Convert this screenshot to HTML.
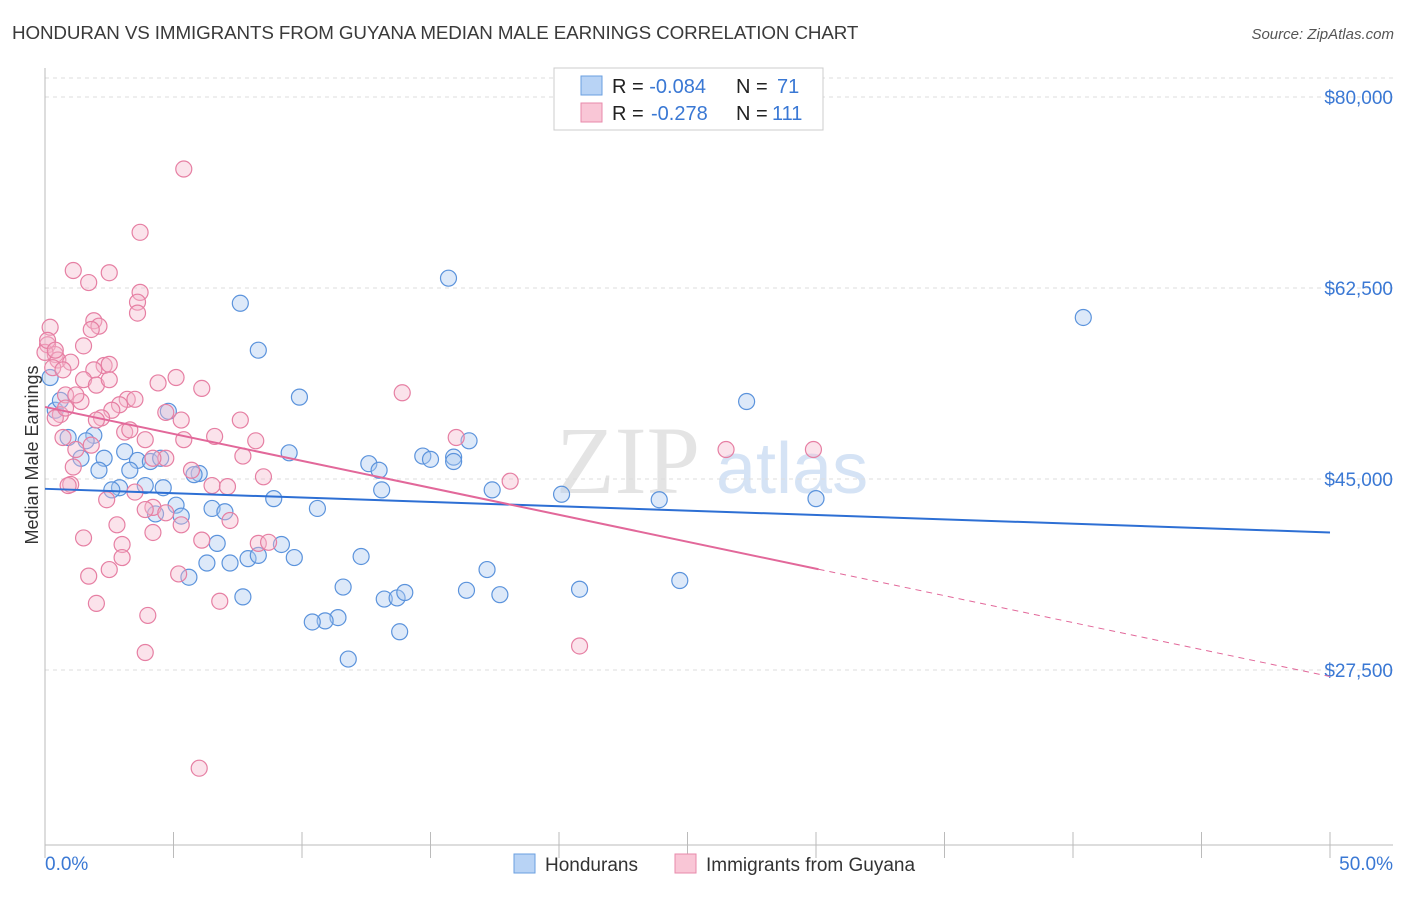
<!DOCTYPE html>
<html><head><meta charset="utf-8"><style>
body{margin:0;background:#fff;font-family:"Liberation Sans",sans-serif;}
</style></head><body>
<svg id="chart" width="1406" height="892" xmlns="http://www.w3.org/2000/svg" font-family="Liberation Sans, sans-serif">
<text x="12" y="39" font-size="18.8" fill="#3a3a3a" letter-spacing="-0.1">HONDURAN VS IMMIGRANTS FROM GUYANA MEDIAN MALE EARNINGS CORRELATION CHART</text>
<text x="1394" y="39" font-size="15" fill="#555" text-anchor="end" font-style="italic">Source: ZipAtlas.com</text>
<text x="556" y="493" font-size="96" fill="#e4e4e4" font-family="Liberation Serif, serif">ZIP</text>
<text x="716" y="493" font-size="72" fill="#d5e3f5">atlas</text>
<text x="38" y="455" font-size="18" fill="#333" text-anchor="middle" transform="rotate(-90 38 455)">Median Male Earnings</text>
<g id="grid"></g><g id="axes"></g><g id="pts"></g><g id="trends"></g>
<g>
<rect x="554" y="68" width="269" height="62" fill="#fff" stroke="#ccc"/>
<rect x="581" y="76" width="21" height="19" fill="#b8d3f5" stroke="#6a9fe0"/>
<rect x="581" y="103" width="21" height="19" fill="#f9c6d6" stroke="#e88aab"/>
<text x="612" y="93" font-size="20" fill="#222">R = <tspan fill="#3a78d4">-0.084</tspan><tspan x="736">N = </tspan><tspan fill="#3a78d4" x="777">71</tspan></text>
<text x="612" y="120" font-size="20" fill="#222">R = <tspan fill="#3a78d4" x="651">-0.278</tspan><tspan x="736">N = </tspan><tspan fill="#3a78d4" x="772">111</tspan></text>
</g>
<g>
<rect x="514" y="854" width="21" height="19" fill="#b8d3f5" stroke="#6a9fe0"/>
<text x="545" y="871" font-size="19" fill="#333">Hondurans</text>
<rect x="675" y="854" width="21" height="19" fill="#f9c6d6" stroke="#e88aab"/>
<text x="706" y="871" font-size="19" fill="#333">Immigrants from Guyana</text>
</g>
<text x="45" y="870" font-size="19" fill="#3a78d4">0.0%</text>
<text x="1393" y="870" font-size="19" fill="#3a78d4" text-anchor="end">50.0%</text>
</svg>
<script>
const yTicks=[80000,62500,45000,27500];
const yTickLabels=["$80,000","$62,500","$45,000","$27,500"];
const blueX=[7.6,15.7,40.4,8.3,9.9,27.3,4.8,0.2,1.9,0.9,1.6,3.1,2.3,1.4,3.6,4.1,4.5,3.3,2.1,6.0,5.8,9.5,12.6,13.0,14.7,15.0,15.9,15.9,16.5,13.1,17.4,20.1,23.9,30.0,2.9,2.6,3.9,4.6,5.1,5.3,4.3,6.5,7.0,8.9,10.6,6.7,7.9,8.3,7.2,6.3,5.6,9.7,9.2,12.3,11.6,7.7,13.2,13.7,14.0,16.4,17.2,17.7,20.8,24.7,11.4,10.9,10.4,13.8,11.8,0.4,0.6];
const blueY=[61.1,63.4,59.8,56.8,52.5,52.1,51.2,54.3,49.0,48.8,48.5,47.5,46.9,46.9,46.7,46.6,46.9,45.8,45.8,45.5,45.4,47.4,46.4,45.8,47.1,46.8,47.0,46.6,48.5,44.0,44.0,43.6,43.1,43.2,44.2,44.0,44.4,44.2,42.6,41.6,41.8,42.3,42.0,43.2,42.3,39.1,37.7,38.0,37.3,37.3,36.0,37.8,39.0,37.9,35.1,34.2,34.0,34.1,34.6,34.8,36.7,34.4,34.9,35.7,32.3,32.0,31.9,31.0,28.5,51.3,52.2];
const pinkX=[5.4,3.7,1.1,2.5,1.7,3.7,3.6,3.6,0.2,1.9,2.1,1.8,0.1,1.5,0.4,0.0,0.5,1.0,0.3,0.7,2.3,2.5,1.9,1.5,2.0,4.4,5.1,6.1,0.8,13.9,1.4,3.2,2.9,3.5,2.6,2.2,4.7,0.6,0.4,0.8,5.3,7.6,3.1,0.7,1.2,1.8,6.6,8.2,16.0,26.5,29.9,4.7,7.7,4.2,1.1,5.7,8.5,18.1,1.0,0.9,3.5,6.5,7.1,2.4,4.2,3.9,4.7,5.3,7.2,2.8,4.2,1.5,6.1,8.3,8.7,3.0,3.0,2.5,1.7,5.2,6.8,2.0,4.0,3.9,20.8,6.0,0.1,0.4,2.5,2.0,3.3,3.9,5.4,1.2];
const pinkY=[73.4,67.6,64.1,63.9,63.0,62.1,61.2,60.2,58.9,59.5,59.0,58.7,57.3,57.2,56.4,56.6,55.9,55.7,55.2,55.0,55.4,55.5,55.0,54.1,53.6,53.8,54.3,53.3,52.7,52.9,52.1,52.3,51.8,52.3,51.3,50.6,51.1,50.9,50.6,51.5,50.4,50.4,49.3,48.8,47.7,48.1,48.9,48.5,48.8,47.7,47.7,46.9,47.1,46.9,46.1,45.8,45.2,44.8,44.5,44.4,43.8,44.4,44.3,43.1,42.4,42.2,41.9,40.8,41.2,40.8,40.1,39.6,39.4,39.1,39.2,39.0,37.8,36.7,36.1,36.3,33.8,33.6,32.5,29.1,29.7,18.5,57.7,56.8,54.1,50.4,49.5,48.6,48.6,52.7];
const blueTrend=[44.1,40.1];
const pinkTrend=[51.6,26.9];
const pinkSolidEnd=30.1;
const NS="http://www.w3.org/2000/svg";
const sx=v=>45+v*25.7;
const sy=v=>97+(80-v)*10.914;
function mk(tag,attrs,parent){const e=document.createElementNS(NS,tag);for(const k in attrs)e.setAttribute(k,attrs[k]);parent.appendChild(e);return e;}
const grid=document.getElementById('grid'),axes=document.getElementById('axes'),pts=document.getElementById('pts'),tr=document.getElementById('trends');
let g0=mk('line',{x1:45,x2:1393,y1:78,y2:78,stroke:'#ddd','stroke-dasharray':'4,4'},grid);


yTicks.forEach((t,i)=>{
 const y=sy(t/1000);
 const l=mk('line',{x1:45,x2:1393,y1:y,y2:y,stroke:'#ddd','stroke-dasharray':'4,4'},grid);
 
 
 const tx=mk('text',{x:1393,y:y+7,'font-size':19,fill:'#3a78d4','text-anchor':'end'},grid);
 tx.textContent=yTickLabels[i];
 
 
});
let ax=mk('line',{x1:45,x2:45,y1:68,y2:845,stroke:'#bbb'},axes);


let bx=mk('line',{x1:45,x2:1393,y1:845,y2:845,stroke:'#bbb'},axes);


for(let i=0;i<=10;i++){const x=sx(i*5);const t=mk('line',{x1:x,x2:x,y1:832,y2:858,stroke:'#bbb'},axes);
 
 }
function dots(X,Y,fill,stroke,name){X.forEach((x,i)=>{const c=mk('circle',{cx:sx(x),cy:sy(Y[i]),r:8,fill:fill,'fill-opacity':0.4,stroke:stroke,'stroke-width':1.2},pts);
 
 });}
dots(blueX,blueY,'#a9c8f0','#5b93dc','honduran-point');
dots(pinkX,pinkY,'#f5b8cc','#e67fa3','guyana-point');
let bl=mk('line',{x1:sx(0),y1:sy(blueTrend[0]),x2:sx(50),y2:sy(blueTrend[1]),stroke:'#2d6fd4','stroke-width':2},tr);


const py=x=>pinkTrend[0]+(pinkTrend[1]-pinkTrend[0])*x/50;
let pl=mk('line',{x1:sx(0),y1:sy(py(0)),x2:sx(pinkSolidEnd),y2:sy(py(pinkSolidEnd)),stroke:'#e2689a','stroke-width':2},tr);


let pd=mk('line',{x1:sx(pinkSolidEnd),y1:sy(py(pinkSolidEnd)),x2:sx(50),y2:sy(py(50)),stroke:'#e2689a','stroke-width':1,'stroke-dasharray':'6,5'},tr);


</script>
</body></html>
